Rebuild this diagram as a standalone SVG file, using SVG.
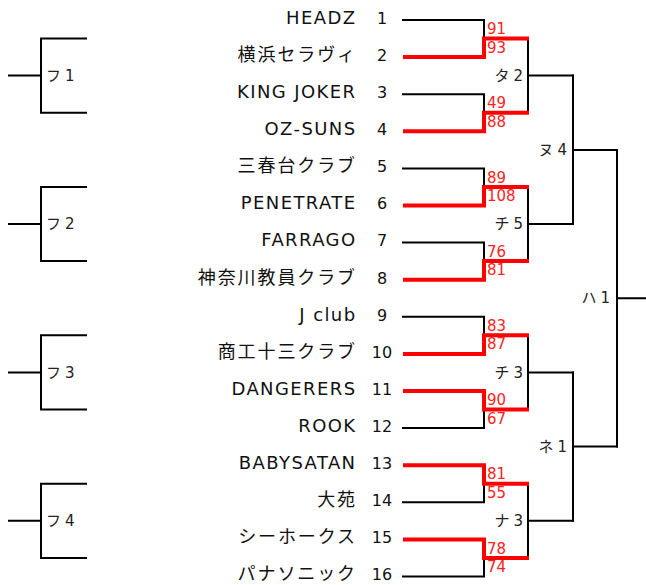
<svg xmlns="http://www.w3.org/2000/svg" width="646" height="585" viewBox="0 0 646 585">
<style>
.bk{stroke:#000;stroke-width:2;fill:none;stroke-linecap:square}
.rd{stroke:#f00;stroke-width:4;fill:none;stroke-linecap:square}
.nm{font-family:"DejaVu Sans","Noto Sans CJK JP",sans-serif;font-size:18px;letter-spacing:1.4px;text-anchor:end;fill:#111}
.jp{letter-spacing:1.9px}
.no{font-family:"DejaVu Sans",sans-serif;font-size:16px;text-anchor:middle;fill:#111}
.sc{font-family:"DejaVu Sans",sans-serif;font-size:15px;fill:#f22}
.lb{font-family:"DejaVu Sans","Noto Sans CJK JP",sans-serif;font-size:15px;fill:#222;text-anchor:end}
.ll{font-family:"DejaVu Sans","Noto Sans CJK JP",sans-serif;font-size:15px;fill:#222}
</style>
<rect width="646" height="585" fill="#fff"/>
<g id="teams">
<g id="t1"><text class="nm" x="356.5" y="24">HEADZ</text><text class="no" x="382" y="24">1</text></g>
<g id="t2"><text class="nm jp" x="357" y="61">横浜セラヴィ</text><text class="no" x="382" y="61">2</text></g>
<g id="t3"><text class="nm" x="356.5" y="98">KING JOKER</text><text class="no" x="382" y="98">3</text></g>
<g id="t4"><text class="nm" x="356.5" y="135">OZ-SUNS</text><text class="no" x="382" y="135">4</text></g>
<g id="t5"><text class="nm jp" x="357" y="172">三春台クラブ</text><text class="no" x="382" y="172">5</text></g>
<g id="t6"><text class="nm" x="356.5" y="209">PENETRATE</text><text class="no" x="382" y="209">6</text></g>
<g id="t7"><text class="nm" x="356.5" y="246">FARRAGO</text><text class="no" x="382" y="246">7</text></g>
<g id="t8"><text class="nm jp" x="357" y="284">神奈川教員クラブ</text><text class="no" x="382" y="284">8</text></g>
<g id="t9"><text class="nm" x="356.5" y="321">J club</text><text class="no" x="382" y="321">9</text></g>
<g id="t10"><text class="nm jp" x="357" y="358">商工十三クラブ</text><text class="no" x="382" y="358">10</text></g>
<g id="t11"><text class="nm" x="356.5" y="395">DANGERERS</text><text class="no" x="382" y="395">11</text></g>
<g id="t12"><text class="nm" x="356.5" y="432">ROOK</text><text class="no" x="382" y="432">12</text></g>
<g id="t13"><text class="nm" x="356.5" y="469">BABYSATAN</text><text class="no" x="382" y="469">13</text></g>
<g id="t14"><text class="nm jp" x="357" y="506">大苑</text><text class="no" x="382" y="506">14</text></g>
<g id="t15"><text class="nm jp" x="357" y="543">シーホークス</text><text class="no" x="382" y="543">15</text></g>
<g id="t16"><text class="nm jp" x="357" y="580">パナソニック</text><text class="no" x="382" y="580">16</text></g>
</g>
<g id="connectors">
<path class="bk" d="M403,20H484V38.5"/>
<path class="bk" d="M403,94.2H484V112.7"/>
<path class="bk" d="M403,168.4H484V187"/>
<path class="bk" d="M403,242.6H484V261.1"/>
<path class="bk" d="M403,316.8H484V335.3"/>
<path class="bk" d="M403,428.1H484V409.5"/>
<path class="bk" d="M403,502.3H484V483.7"/>
<path class="bk" d="M403,576.5H484V558"/>
<path class="bk" d="M528,38.5V112.7M528,75.6H573"/>
<path class="bk" d="M528,187V261.1M528,224H573"/>
<path class="bk" d="M528,335.3V409.5M528,372.4H573"/>
<path class="bk" d="M528,483.7V558M528,520.8H573"/>
<path class="bk" d="M573,75.6V224M573,149.9H617"/>
<path class="bk" d="M573,372.4V520.8M573,446.6H617"/>
<path class="bk" d="M617,149.9V446.6M617,298.3H646"/>
<path class="rd" d="M405,57.1H484V38.5H527"/>
<path class="rd" d="M405,131.3H484V112.7H527"/>
<path class="rd" d="M405,205.5H484V187H527"/>
<path class="rd" d="M405,279.7H484V261.1H527"/>
<path class="rd" d="M405,353.9H484V335.3H527"/>
<path class="rd" d="M405,391H484V409.5H527"/>
<path class="rd" d="M405,465.2H484V483.7H527"/>
<path class="rd" d="M405,539.4H484V558H527"/>
<path class="bk" d="M86,38.5H41V112.7H86M9,75.6H41"/>
<path class="bk" d="M86,187H41V261.1H86M9,224H41"/>
<path class="bk" d="M86,335.3H41V409.5H86M9,372.4H41"/>
<path class="bk" d="M86,483.7H41V558H86M9,520.8H41"/>
</g>
<g id="scores">
<text class="sc" x="487" y="34">91</text><text class="sc" x="487" y="52.5">93</text>
<text class="sc" x="487" y="108">49</text><text class="sc" x="487" y="126.5">88</text>
<text class="sc" x="487" y="182.5">89</text><text class="sc" x="487" y="201">108</text>
<text class="sc" x="487" y="256.5">76</text><text class="sc" x="487" y="275">81</text>
<text class="sc" x="487" y="331">83</text><text class="sc" x="487" y="349">87</text>
<text class="sc" x="487" y="405">90</text><text class="sc" x="487" y="423.5">67</text>
<text class="sc" x="487" y="479">81</text><text class="sc" x="487" y="497.5">55</text>
<text class="sc" x="487" y="553.5">78</text><text class="sc" x="487" y="572">74</text>
</g>
<g id="labels">
<g id="ta2"><text class="lb" x="523" y="80.5">タ<tspan dx="4">2</tspan></text></g>
<g id="chi5"><text class="lb" x="523" y="229">チ<tspan dx="4">5</tspan></text></g>
<g id="chi3"><text class="lb" x="523" y="377.5">チ<tspan dx="4">3</tspan></text></g>
<g id="na3"><text class="lb" x="523" y="526">ナ<tspan dx="4">3</tspan></text></g>
<g id="nu4"><text class="lb" x="567" y="155">ヌ<tspan dx="4">4</tspan></text></g>
<g id="ne1"><text class="lb" x="567" y="451.5">ネ<tspan dx="4">1</tspan></text></g>
<g id="ha1"><text class="lb" x="610" y="303">ハ<tspan dx="4">1</tspan></text></g>
<g id="fu1"><text class="ll" x="46" y="80.5">フ<tspan dx="4">1</tspan></text></g>
<g id="fu2"><text class="ll" x="46" y="229">フ<tspan dx="4">2</tspan></text></g>
<g id="fu3"><text class="ll" x="46" y="377.5">フ<tspan dx="4">3</tspan></text></g>
<g id="fu4"><text class="ll" x="46" y="526">フ<tspan dx="4">4</tspan></text></g>
</g>
</svg>
